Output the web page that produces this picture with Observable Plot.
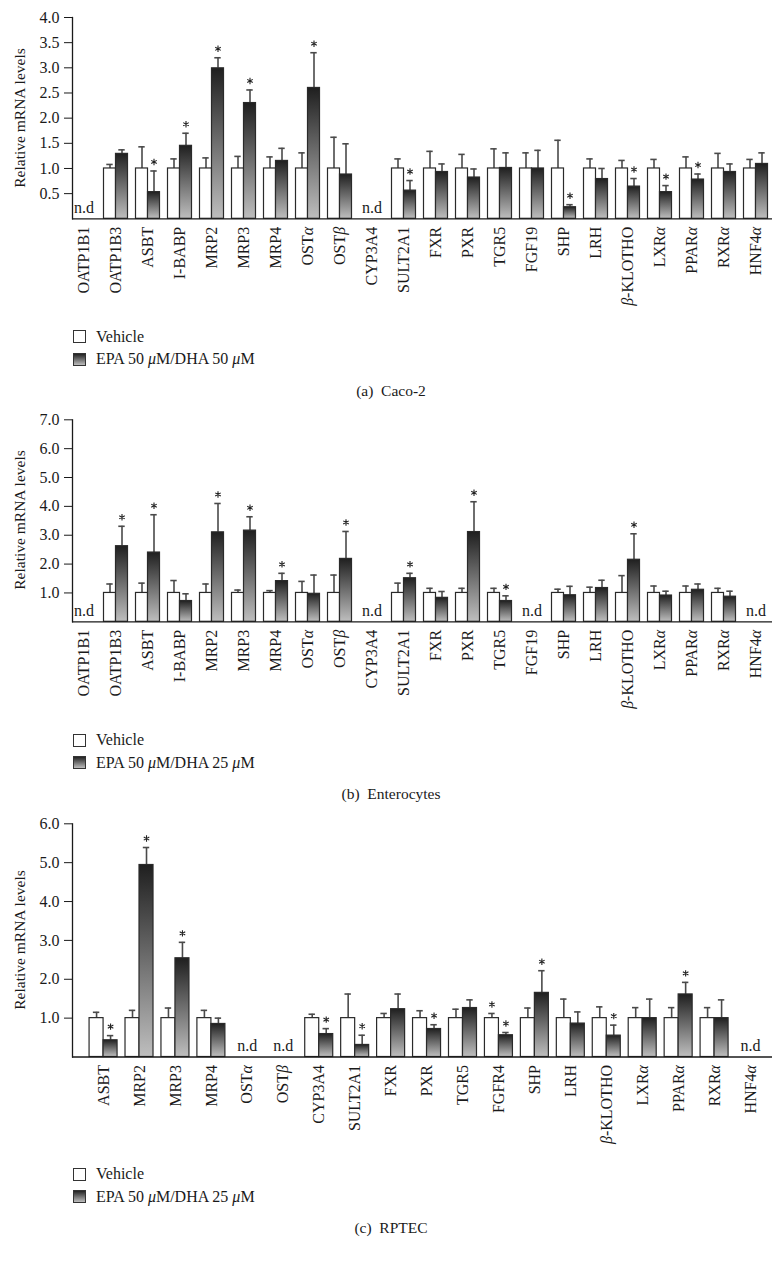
<!DOCTYPE html>
<html><head><meta charset="utf-8">
<script src="https://cdn.jsdelivr.net/npm/d3@7"></script>
<script src="https://cdn.jsdelivr.net/npm/@observablehq/plot@0.6"></script>
<style>
body{margin:0;background:#fff;}
#root{position:relative;width:782px;height:1261px;font-family:"Liberation Serif","Times New Roman",serif;color:#1a1a1a;overflow:hidden;}
.svgwrap{position:absolute;left:0;}
.leg{position:absolute;left:73px;font-size:16px;display:flex;align-items:center;height:16px;white-space:pre;}
.box{width:11px;height:11px;border:1.3px solid #333;margin-right:10px;box-sizing:content-box;}
.boxV{background:#fff;}
.boxE{background:linear-gradient(#222,#bdbdbd);}
.cap{position:absolute;left:0;width:782px;text-align:center;font-size:15.5px;line-height:18px;white-space:pre;}
.ylab{position:absolute;font-size:15.5px;white-space:nowrap;transform-origin:center center;}
</style></head><body><div id="root"></div>
<script>
// ---------- Panel (a) Caco-2 ----------
const catsA = ["OATP1B1","OATP1B3","ASBT","I-BABP","MRP2","MRP3","MRP4","OSTα","OSTβ","CYP3A4","SULT2A1","FXR","PXR","TGR5","FGF19","SHP","LRH","β-KLOTHO","LXRα","PPARα","RXRα","HNF4α"];
const vehA    = [null,1,1,1,1,1,1,1,1,null,1,1,1,1,1,1,1,1,1,1,1,1];
const vehErrA = [null,1.08,1.43,1.19,1.21,1.24,1.23,1.31,1.62,null,1.19,1.34,1.28,1.39,1.31,1.56,1.19,1.16,1.18,1.23,1.30,1.18];
const epaA    = [null,1.29,0.53,1.45,2.99,2.30,1.15,2.60,0.88,null,0.56,0.93,0.82,1.01,1.00,0.23,0.79,0.64,0.53,0.78,0.93,1.09];
const epaErrA = [null,1.37,0.95,1.70,3.20,2.56,1.40,3.30,1.49,null,0.76,1.09,0.99,1.31,1.36,0.28,1.00,0.80,0.66,0.89,1.09,1.31];
const sigVA   = [0,0,0,0,0,0,0,0,0,0,0,0,0,0,0,0,0,0,0,0,0,0];
const sigEA   = [0,0,1,1,1,1,0,1,0,0,1,0,0,0,0,1,0,1,1,1,0,0];
const ticksA  = [0.5,1.0,1.5,2.0,2.5,3.0,3.5,4.0];

// ---------- Panel (b) Enterocytes ----------
const catsB = ["OATP1B1","OATP1B3","ASBT","I-BABP","MRP2","MRP3","MRP4","OSTα","OSTβ","CYP3A4","SULT2A1","FXR","PXR","TGR5","FGF19","SHP","LRH","β-KLOTHO","LXRα","PPARα","RXRα","HNF4α"];
const vehB    = [null,1,1,1,1,1,1,1,1,null,1,1,1,1,null,1,1,1,1,1,1,null];
const vehErrB = [null,1.31,1.34,1.43,1.31,1.10,1.08,1.40,1.62,null,1.34,1.16,1.16,1.16,null,1.13,1.20,1.60,1.24,1.24,1.16,null];
const epaB    = [null,2.62,2.40,0.72,3.10,3.16,1.41,0.97,2.18,null,1.51,0.83,3.11,0.72,null,0.92,1.17,2.15,0.91,1.11,0.87,null];
const epaErrB = [null,3.31,3.71,0.97,4.10,3.64,1.68,1.62,3.13,null,1.68,1.05,4.16,0.90,null,1.23,1.44,3.05,1.06,1.31,1.06,null];
const sigVB   = [0,0,0,0,0,0,0,0,0,0,0,0,0,0,0,0,0,0,0,0,0,0];
const sigEB   = [0,1,1,0,1,1,1,0,1,0,1,0,1,1,0,0,0,1,0,0,0,0];
const ticksB  = [1,2,3,4,5,6,7];

// ---------- Panel (c) RPTEC ----------
const catsC = ["ASBT","MRP2","MRP3","MRP4","OSTα","OSTβ","CYP3A4","SULT2A1","FXR","PXR","TGR5","FGFR4","SHP","LRH","β-KLOTHO","LXRα","PPARα","RXRα","HNF4α"];
const vehC    = [1,1,1,1,null,null,1,1,1,1,1,1,1,1,1,1,1,1,null];
const vehErrC = [1.15,1.20,1.26,1.20,null,null,1.10,1.62,1.12,1.19,1.23,1.12,1.26,1.49,1.29,1.27,1.27,1.27,null];
const epaC    = [0.43,4.94,2.54,0.85,null,null,0.59,0.31,1.23,0.72,1.26,0.56,1.65,0.86,0.55,1.00,1.61,1.00,null];
const epaErrC = [0.55,5.39,2.95,1.00,null,null,0.73,0.56,1.62,0.83,1.47,0.63,2.22,1.16,0.82,1.49,1.92,1.47,null];
const sigVC   = [0,0,0,0,0,0,0,0,0,0,0,1,0,0,0,0,0,0,0];
const sigEC   = [1,1,1,0,0,0,1,1,0,1,0,1,1,0,1,0,1,0,0];
const ticksC  = [1,2,3,4,5,6];

const seriesNames = ["Vehicle","EPA"];
const root = document.getElementById("root");
const FONT = '"Liberation Serif","Times New Roman",serif';

function gradientDefs(id){
  return () => {
    const ns = "http://www.w3.org/2000/svg";
    const defs = document.createElementNS(ns,"defs");
    const g = document.createElementNS(ns,"linearGradient");
    g.setAttribute("id", id); g.setAttribute("x1","0"); g.setAttribute("y1","0"); g.setAttribute("x2","0"); g.setAttribute("y2","1");
    [["0","#1f1f1f"],["1","#bebebe"]].forEach(([o,c])=>{
      const s = document.createElementNS(ns,"stop"); s.setAttribute("offset",o); s.setAttribute("stop-color",c); g.appendChild(s);
    });
    defs.appendChild(g);
    return defs;
  };
}

function italicGreek(svg){
  const ns = "http://www.w3.org/2000/svg";
  svg.querySelectorAll("text").forEach(t => {
    if (t.children.length) return;
    const s = t.textContent;
    if (!/[αβ]/.test(s)) return;
    t.textContent = "";
    s.split(/([αβ])/).forEach(part => {
      if (!part) return;
      const sp = document.createElementNS(ns, "tspan");
      sp.textContent = part;
      if (/[αβ]/.test(part)) sp.setAttribute("font-style", "italic");
      t.appendChild(sp);
    });
  });
}

function panel(cfg){
  const {id, cats, veh, vehErr, epa, epaErr, sigV, sigE, ticks, yMax, top, height, marginTop, baseline, range, barW} = cfg;
  const rows = cats.map((c,i)=>({cat:c, veh:veh[i], vehErr:vehErr[i], epa:epa[i], epaErr:epaErr[i], sigV:sigV[i], sigE:sigE[i]}));
  const band = (range[1]-range[0])/cats.length;
  const outer = band/2 - barW;
  const half = barW/2;
  const capHalf = 3.2;
  const hasV = rows.filter(d=>d.veh!=null);
  const hasE = rows.filter(d=>d.epa!=null);
  const nd = rows.filter(d=>d.veh==null);
  const errStroke = "#4a4a4a";
  const plot = Plot.plot({
    width: 782, height,
    marginLeft: 72, marginRight: 10, marginTop, marginBottom: height - baseline,
    style: {fontFamily: FONT, fontSize: "16px", color: "#1a1a1a", background: "transparent", overflow: "visible"},
    x: {type: "band", domain: cats, range, padding: 0, round: false, axis: null},
    y: {domain: [0, yMax], axis: null},
    marks: [
      gradientDefs(id),
      Plot.ruleX(hasV, {x:"cat", y1:"veh", y2:"vehErr", dx:-half, stroke:errStroke, strokeWidth:1.6}),
      Plot.tickY(hasV, {x:"cat", y:"vehErr", insetLeft: band/2-half-capHalf, insetRight: band/2+half-capHalf, stroke:errStroke, strokeWidth:1.6}),
      Plot.ruleX(hasE, {x:"cat", y1:"epa", y2:"epaErr", dx:half, stroke:errStroke, strokeWidth:1.6}),
      Plot.tickY(hasE, {x:"cat", y:"epaErr", insetLeft: band/2+half-capHalf, insetRight: band/2-half-capHalf, stroke:errStroke, strokeWidth:1.6}),
      Plot.barY(hasV, {x:"cat", y:"veh", insetLeft: outer, insetRight: band/2, fill:"#fff", stroke:"#2a2a2a", strokeWidth:1.2}),
      Plot.barY(hasE, {x:"cat", y:"epa", insetLeft: band/2, insetRight: outer, fill:`url(#${id})`, stroke:"#2a2a2a", strokeWidth:1.2}),
      Plot.dot(rows.filter(d=>d.sigV), {x:"cat", y:"vehErr", symbol:"asterisk", r:3, dx:-half, dy:-9, stroke:"#222", strokeWidth:1.1}),
      Plot.dot(rows.filter(d=>d.sigE), {x:"cat", y:"epaErr", symbol:"asterisk", r:3, dx:half, dy:-9, stroke:"#222", strokeWidth:1.1}),
      Plot.text(nd, {x:"cat", y:()=>0, text:()=>"n.d", dy:-11, fontSize:16, fill:"#1a1a1a"}),
      Plot.ruleY([0], {stroke:"#1a1a1a", strokeWidth:1.3}),
      Plot.frame({anchor:"left", stroke:"#1a1a1a", strokeWidth:1.3}),
      Plot.axisY({ticks, tickFormat: d3.format(".1f"), tickSize: 8, tickPadding: 5, fontSize: 16, label: null, stroke:"#1a1a1a"}),
      Plot.axisX({tickRotate: -90, tickSize: 0, tickPadding: 8, fontSize: 16, label: null})
    ]
  });
  italicGreek(plot);
  const wrap = document.createElement("div");
  wrap.className = "svgwrap"; wrap.style.top = top + "px";
  wrap.appendChild(plot);
  root.appendChild(wrap);
  const yl = document.createElement("div");
  yl.className = "ylab"; yl.textContent = "Relative mRNA levels";
  root.appendChild(yl);
  const w = yl.offsetWidth, h = yl.offsetHeight;
  const cy = top + (marginTop + baseline)/2;
  yl.style.left = (19 - w/2) + "px";
  yl.style.top = (cy - h/2) + "px";
  yl.style.transform = "rotate(-90deg)";
}

function legend(y1, y2, epaLabel){
  const a = document.createElement("div");
  a.className = "leg"; a.style.top = (y1-8) + "px";
  a.innerHTML = `<span class="box boxV"></span><span>${seriesNames[0]}</span>`;
  root.appendChild(a);
  const b = document.createElement("div");
  b.className = "leg"; b.style.top = (y2-8) + "px";
  b.innerHTML = `<span class="box boxE"></span><span>${epaLabel}</span>`;
  root.appendChild(b);
}
function caption(y, text){
  const c = document.createElement("div");
  c.className = "cap"; c.style.top = (y-9) + "px"; c.textContent = text;
  root.appendChild(c);
}

panel({id:"gA", cats:catsA, veh:vehA, vehErr:vehErrA, epa:epaA, epaErr:epaErrA, sigV:sigVA, sigE:sigEA, ticks:ticksA, yMax:4, top:0, height:318, marginTop:17, baseline:218.3, range:[67.5,771.5], barW:12});
legend(336.7, 359.3, "EPA 50 <i>μ</i>M/DHA 50 <i>μ</i>M");
caption(391, "(a)  Caco-2");

panel({id:"gB", cats:catsB, veh:vehB, vehErr:vehErrB, epa:epaB, epaErr:epaErrB, sigV:sigVB, sigE:sigEB, ticks:ticksB, yMax:7, top:400, height:318, marginTop:19.3, baseline:221.3, range:[67.5,771.5], barW:12});
legend(740, 762.7, "EPA 50 <i>μ</i>M/DHA 25 <i>μ</i>M");
caption(794, "(b)  Enterocytes");

panel({id:"gC", cats:catsC, veh:vehC, vehErr:vehErrC, epa:epaC, epaErr:epaErrC, sigV:sigVC, sigE:sigEC, ticks:ticksC, yMax:6, top:800, height:360, marginTop:23.3, baseline:256.5, range:[85.1,768], barW:14});
legend(1174.3, 1196.7, "EPA 50 <i>μ</i>M/DHA 25 <i>μ</i>M");
caption(1228, "(c)  RPTEC");
</script>
</body></html>
